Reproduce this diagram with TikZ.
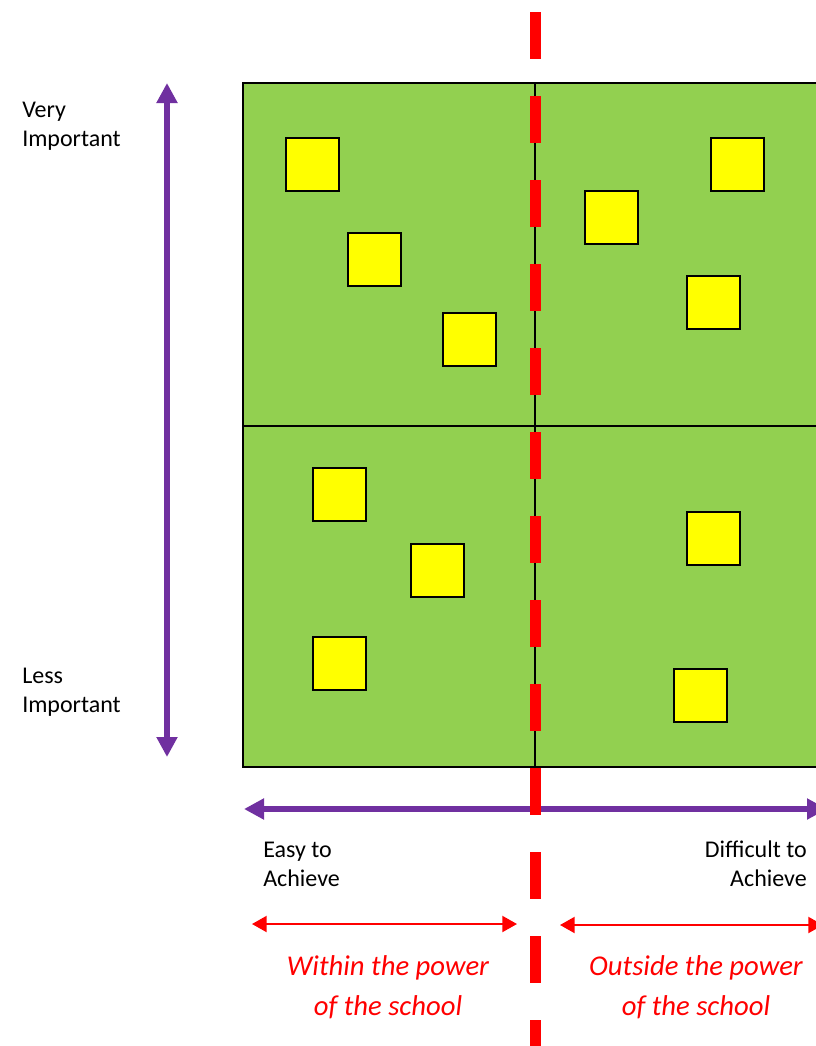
\documentclass[tikz,border=0pt]{standalone}
\usepackage{fontspec}
\setmainfont{Carlito}
\usetikzlibrary{arrows.meta}
\definecolor{qgreen}{HTML}{92D050}
\definecolor{qyellow}{HTML}{FFFF00}
\definecolor{qpurple}{HTML}{7030A0}
\definecolor{qred}{HTML}{FF0000}
\tikzset{
  sq/.style={draw=black, line width=1.2pt, fill=qyellow, minimum size=39.75pt, inner sep=0pt, outer sep=0pt},
  gridline/.style={draw=black, line width=1.3pt},
  divider/.style={draw=qred, line width=8.25pt, dash pattern=on 35.25pt off 27.75pt},
  paxis/.style={draw=qpurple, line width=4.5pt, {Triangle[length=15pt,width=15pt]}-{Triangle[length=15pt,width=15pt]}},
  rarrow/.style={draw=qred, line width=1.5pt, {Triangle[length=11pt,width=12pt]}-{Triangle[length=11pt,width=12pt]}},
  blab/.style={font=\fontsize{18}{22}\selectfont, inner sep=0pt, text=black},
  rlab/.style={font=\fontsize{21.5}{30}\selectfont\itshape, inner sep=0pt, text=qred, anchor=base},
}
\begin{document}
\begin{tikzpicture}[x=0.75pt,y=-0.75pt]
\useasboundingbox (0,0) rectangle (816,1046);
\clip (0,0) rectangle (816,1046);
% grid
\fill[qgreen] (243,83) rectangle (840,767);
\draw[gridline] (243,83) rectangle (840,767);
\draw[gridline] (243,426) -- (840,426);
\coordinate (mtop) at (535,83);
\coordinate (mbot) at (535,767);
\draw[gridline] (mtop) -- (mbot);
% squares
\node[sq] (s1) at (312.5,164.5) {};
\node[sq] (s2) at (374.5,259.5) {};
\node[sq] (s3) at (469.5,339.5) {};
\node[sq] (s4) at (611.5,217.5) {};
\node[sq] (s5) at (737.5,164.5) {};
\node[sq] (s6) at (713.5,302.5) {};
\node[sq] (s7) at (339.5,494.5) {};
\node[sq] (s8) at (437.5,570.5) {};
\node[sq] (s9) at (339.5,663.5) {};
\node[sq] (s10) at (713.5,538.5) {};
\node[sq] (s11) at (700.5,695.5) {};
% purple axes
\coordinate (vtop) at (167,83);
\coordinate (vbot) at (167,757);
\draw[paxis] (vbot) -- (vtop);
\coordinate (hleft) at (244,809);
\coordinate (hright) at (827,809);
\draw[paxis] (hleft) -- (hright);
% red divider
\coordinate (dtop) at (535,12);
\coordinate (dbot) at (535,1060);
\draw[divider] (dtop) -- (dbot);
% red arrows
\coordinate (la) at (252,924);
\coordinate (lb) at (517,924);
\draw[rarrow] (la) -- (lb);
\coordinate (ra) at (560,925);
\coordinate (rb) at (823,925);
\draw[rarrow] (ra) -- (rb);
% labels
\node[blab, anchor=base west] (t1) at (22,117) {Very};
\node[blab, anchor=base west] (t2) at (22,146) {Important};
\node[blab, anchor=base west] (t3) at (22,683) {Less};
\node[blab, anchor=base west] (t4) at (22,712) {Important};
\node[blab, anchor=base west] (t5) at (263,857) {Easy to};
\node[blab, anchor=base west] (t6) at (263,886) {Achieve};
\node[blab, anchor=base east] (t7) at (807,857) {Difficult to};
\node[blab, anchor=base east] (t8) at (807,886) {Achieve};
\node[rlab] (w1) at (388,975) {Within the power};
\node[rlab] (w2) at (388,1015) {of the school};
\node[rlab] (o1) at (696,975) {Outside the power};
\node[rlab] (o2) at (696,1015) {of the school};
\end{tikzpicture}
\end{document}
